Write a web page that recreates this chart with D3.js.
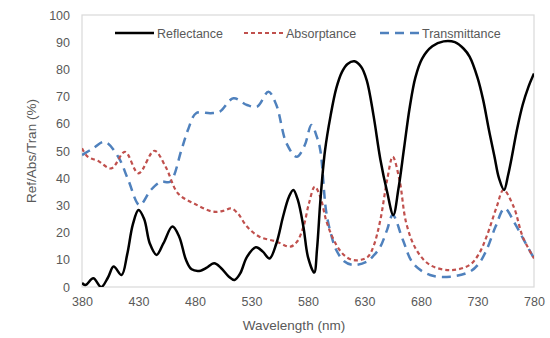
<!DOCTYPE html>
<html lang="en">
<head>
<meta charset="utf-8">
<title>Ref/Abs/Tran</title>
<script src="https://cdn.jsdelivr.net/npm/d3@7"></script>
<style>
  body { margin: 0; background: #fff; }
  text { font-family: "Liberation Sans", Arial, sans-serif; fill: #595959; }
</style>
</head>
<body>
<script>
// data (wavelength in nm, value in %)
var reflWl  = [380, 383, 390, 397, 403, 408, 415, 420, 425, 430, 435, 440, 446, 452, 460, 466, 472, 477, 485, 490, 497, 503, 510, 515, 520, 526, 534, 540, 546, 552, 558, 563, 567, 571, 576, 580, 585.5, 588, 591, 595, 600, 605, 610, 615, 621, 627, 632, 638, 644, 650, 655.5, 660, 665, 670, 675, 681, 690, 700, 710, 718, 723, 730, 735, 740, 745, 749, 753.5, 757, 760, 765, 770, 775, 780];
var reflVal = [1.5, 0.7, 3.2, 0, 3.5, 7.5, 4.4, 12, 23, 28.3, 25, 16, 11.8, 16, 22.2, 18.5, 10, 6.5, 6, 7, 8.7, 7, 3.8, 2.6, 5, 11.1, 14.6, 13, 10.5, 16, 26, 33, 35.7, 32, 22, 11, 5.3, 14, 32, 50, 63, 73, 79, 82, 83, 81, 76, 63, 47, 35, 26.5, 36, 51, 66, 77, 84, 88.5, 90.3, 90, 87.5, 84.7, 77, 68.8, 58, 48, 40, 35.7, 41, 47, 58, 67, 73.5, 78.5];

var absWl  = [380, 385, 394, 406, 418, 430, 444, 454, 465, 480, 496, 505, 512, 518, 526, 537, 552, 564, 570, 576, 581, 586, 591, 596, 602, 608, 614, 620, 627, 633, 638, 644, 650, 655, 661, 667, 676, 688, 706, 723, 731, 738, 747, 753, 762, 770, 780];
var absVal = [51, 47.9, 46.4, 43.6, 49.7, 41.8, 50.1, 44.2, 34.4, 30.5, 27.7, 28, 28.9, 27, 22.2, 18.5, 16.7, 14.8, 16.5, 22.2, 31, 36.9, 33, 24.6, 18, 13.6, 11, 9.9, 10, 11.1, 15, 24.6, 39.3, 47.9, 39.3, 23.4, 13.6, 8.1, 6.2, 8.1, 12, 18.5, 29.5, 35.7, 29.5, 18.5, 10.5];

var tranWl  = [380, 390, 400, 412, 421, 431, 441, 450, 458, 468, 474, 481, 494, 502, 514, 526, 535, 545, 552, 561, 570, 577, 583, 588, 591, 596, 600, 605, 612, 620, 632, 638, 644, 650, 655, 664, 673, 688, 706, 723, 731, 738, 746, 754, 763, 771, 780];
var tranVal = [48.5, 51, 53.4, 47.9, 39.3, 30.1, 35.7, 38.7, 38.7, 50.4, 58, 63.9, 63.9, 64.5, 69.4, 66.9, 66.3, 71.8, 66.9, 52.8, 47.9, 52, 59.6, 55, 50, 28, 20, 13.6, 9.5, 8.1, 9.3, 11.5, 14.8, 21, 26.5, 17.3, 8.7, 4.4, 3.8, 5.6, 8.5, 13.6, 22.2, 28.9, 23.4, 17.3, 10.5];

var xTicks = [380, 430, 480, 530, 580, 630, 680, 730, 780];
var yTicks = [0, 10, 20, 30, 40, 50, 60, 70, 80, 90, 100];

var series = [
  { name: "Reflectance",   wl: reflWl, val: reflVal, color: "#000000", width: 2.5, dash: null },
  { name: "Absorptance",   wl: absWl,  val: absVal,  color: "#C0504D", width: 2.2, dash: "4,3" },
  { name: "Transmittance", wl: tranWl, val: tranVal, color: "#4F81BD", width: 2.5, dash: "9,6" }
];

var width = 550, height = 338;
var plotLeft = 82, plotRight = 534, plotTop = 15, plotBottom = 287;

var svg = d3.select("body").append("svg")
  .attr("width", width)
  .attr("height", height);

var x = d3.scaleLinear().domain([380, 780]).range([plotLeft, plotRight]);
var y = d3.scaleLinear().domain([0, 100]).range([plotBottom, plotTop]);

// plot frame
svg.append("rect")
  .attr("x", plotLeft).attr("y", plotTop)
  .attr("width", plotRight - plotLeft).attr("height", plotBottom - plotTop)
  .attr("fill", "none")
  .attr("stroke", "#D9D9D9")
  .attr("stroke-width", 1.2);

// axes, no tick marks
svg.append("g")
  .attr("transform", "translate(0," + plotBottom + ")")
  .call(d3.axisBottom(x).tickValues(xTicks).tickSize(0).tickPadding(10));
svg.append("g")
  .attr("transform", "translate(" + plotLeft + ",0)")
  .call(d3.axisLeft(y).tickValues(yTicks).tickSize(0).tickPadding(12));
svg.selectAll(".domain").remove();
svg.selectAll(".tick text")
  .style("font-family", "'Liberation Sans', Arial, sans-serif")
  .style("font-size", "12.5px")
  .attr("fill", "#595959");

// axis titles
svg.append("text")
  .attr("x", 294).attr("y", 330)
  .attr("text-anchor", "middle")
  .style("font-size", "13.5px")
  .text("Wavelength (nm)");

svg.append("text")
  .attr("transform", "translate(36,151) rotate(-90)")
  .attr("text-anchor", "middle")
  .style("font-size", "13.5px")
  .text("Ref/Abs/Tran (%)");

// clip curves to the plot area
svg.append("clipPath").attr("id", "plot")
  .append("rect")
  .attr("x", plotLeft).attr("y", plotTop)
  .attr("width", plotRight - plotLeft).attr("height", plotBottom - plotTop);

var line = d3.line()
  .x(function(d) { return x(d[0]); })
  .y(function(d) { return y(d[1]); })
  .curve(d3.curveCatmullRom.alpha(0.5));

// draw transmittance and absorptance under reflectance
[series[2], series[1], series[0]].forEach(function(s) {
  var pts = s.wl.map(function(w, i) { return [w, s.val[i]]; });
  svg.append("path")
    .datum(pts)
    .attr("clip-path", "url(#plot)")
    .attr("fill", "none")
    .attr("stroke", s.color)
    .attr("stroke-width", s.width)
    .attr("stroke-dasharray", s.dash)
    .attr("d", line);
});

// legend
var legendX = [115, 244, 380];
series.forEach(function(s, i) {
  var g = svg.append("g").attr("transform", "translate(" + legendX[i] + ",33)");
  g.append("line")
    .attr("x1", 0).attr("x2", 39)
    .attr("y1", 0).attr("y2", 0)
    .attr("stroke", s.color)
    .attr("stroke-width", s.width)
    .attr("stroke-dasharray", s.dash);
  g.append("text")
    .attr("x", 42).attr("y", 4.5)
    .style("font-size", "12.5px")
    .text(s.name);
});
</script>
</body>
</html>
